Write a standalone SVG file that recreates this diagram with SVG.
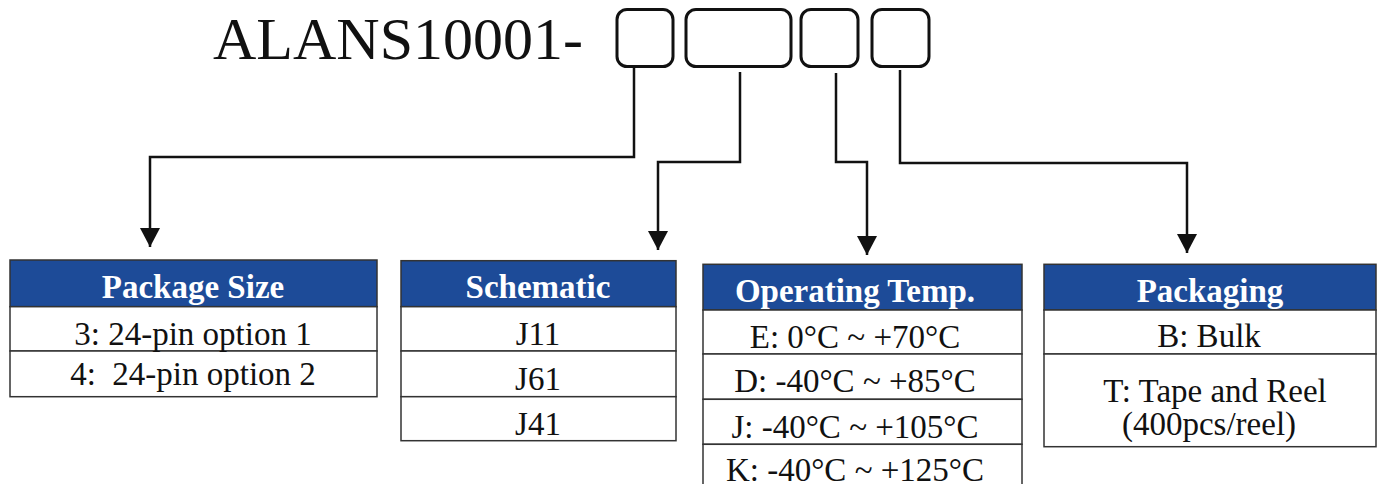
<svg xmlns="http://www.w3.org/2000/svg" width="1377" height="484" viewBox="0 0 1377 484">
<style>
.t{font-family:"Liberation Serif","Times New Roman",serif;fill:#111;}
.h{font-family:"Liberation Serif","Times New Roman",serif;font-weight:bold;fill:#fff;font-size:33px;}
.r{font-size:33px;}
.hd{fill:#1d4b98;stroke:#333;stroke-width:1.5;}
.cell{fill:#fff;stroke:#333;stroke-width:1.5;}
.slot{fill:none;stroke:#111;stroke-width:3;}
.conn{fill:none;stroke:#111;stroke-width:2.5;}
</style>
<defs>
<marker id="arr" markerUnits="userSpaceOnUse" markerWidth="20" markerHeight="20" viewBox="0 0 20 20" refX="19" refY="10" orient="auto">
<path d="M0,0 L19,10 L0,20 z" fill="#111"/>
</marker>
</defs>
<rect width="1377" height="484" fill="#fff"/>
<g id="title">
<text class="t" x="213" y="59" font-size="60">ALANS10001-</text>
<rect class="slot" x="617" y="9.5" width="56" height="57" rx="10"/>
<rect class="slot" x="686" y="9.5" width="105" height="57" rx="10"/>
<rect class="slot" x="801" y="9.5" width="57" height="57" rx="10"/>
<rect class="slot" x="872" y="9.5" width="57" height="57" rx="10"/>
</g>
<g id="connectors">
<path class="conn" d="M634 67 V157 H150 V247" marker-end="url(#arr)"/>
<path class="conn" d="M740 72 V162 H658 V250" marker-end="url(#arr)"/>
<path class="conn" d="M836 73 V162 H867 V255" marker-end="url(#arr)"/>
<path class="conn" d="M900 70 V163 H1187 V253" marker-end="url(#arr)"/>
</g>
<g id="package-size">
<rect class="hd" x="10" y="260" width="367" height="46.7"/>
<rect class="cell" x="10" y="306.7" width="367" height="44.3"/>
<rect class="cell" x="10" y="351" width="367" height="45.7"/>
<text class="h" x="193" y="298" text-anchor="middle">Package Size</text>
<text class="t r" x="193" y="344.5" text-anchor="middle">3: 24-pin option 1</text>
<text class="t r" x="193" y="384.5" text-anchor="middle" xml:space="preserve">4:  24-pin option 2</text>
</g>
<g id="schematic">
<rect class="hd" x="401" y="260.7" width="275" height="46"/>
<rect class="cell" x="401" y="306.7" width="275" height="44.3"/>
<rect class="cell" x="401" y="351" width="275" height="45.7"/>
<rect class="cell" x="401" y="396.7" width="275" height="44"/>
<text class="h" x="538" y="298" text-anchor="middle">Schematic</text>
<text class="t r" x="538" y="344.5" text-anchor="middle">J11</text>
<text class="t r" x="538" y="389.5" text-anchor="middle">J61</text>
<text class="t r" x="538" y="435" text-anchor="middle">J41</text>
</g>
<g id="operating-temp">
<rect class="hd" x="703" y="264.3" width="319" height="45.7"/>
<rect class="cell" x="703" y="310" width="319" height="44"/>
<rect class="cell" x="703" y="354" width="319" height="45.3"/>
<rect class="cell" x="703" y="399.3" width="319" height="45"/>
<rect class="cell" x="703" y="444.3" width="319" height="50"/>
<text class="h" x="855" y="302" text-anchor="middle">Operating Temp.</text>
<text class="t r" x="855" y="347.5" text-anchor="middle">E: 0°C ~ +70°C</text>
<text class="t r" x="855" y="392" text-anchor="middle">D: -40°C ~ +85°C</text>
<text class="t r" x="855" y="437.5" text-anchor="middle">J: -40°C ~ +105°C</text>
<text class="t r" x="855" y="481" text-anchor="middle">K: -40°C ~ +125°C</text>
</g>
<g id="packaging">
<rect class="hd" x="1044" y="264.3" width="332" height="45.7"/>
<rect class="cell" x="1044" y="310" width="332" height="44"/>
<rect class="cell" x="1044" y="354" width="332" height="92.7"/>
<text class="h" x="1210" y="302" text-anchor="middle">Packaging</text>
<text class="t r" x="1209" y="347" text-anchor="middle">B: Bulk</text>
<text class="t r" x="1215" y="402" text-anchor="middle">T: Tape and Reel</text>
<text class="t r" x="1209" y="435" text-anchor="middle">(400pcs/reel)</text>
</g>
</svg>
